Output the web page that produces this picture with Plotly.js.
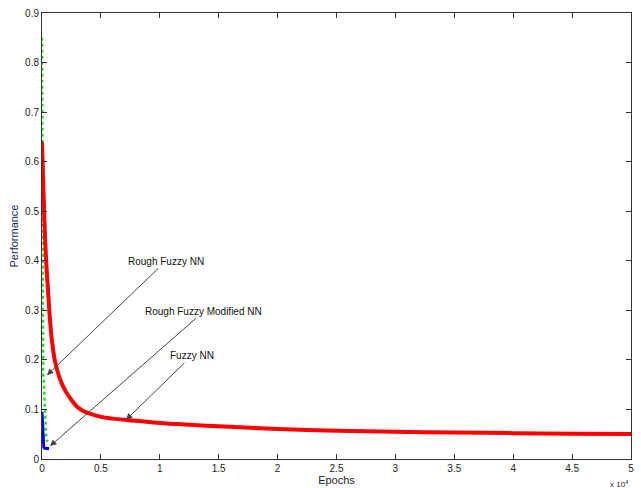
<!DOCTYPE html>
<html><head><meta charset="utf-8">
<script src="https://cdn.plot.ly/plotly-3.0.1.min.js"></script>
<style>body{margin:0;background:#fff}#c{width:641px;height:488px}</style>
</head><body><div id="c"></div>
<script>
// Fuzzy NN (red)
const fuzzyX = [0, 100, 200, 300, 400, 500, 650, 850, 1080, 1500, 2000, 2500, 3000, 3500, 4000, 5000, 6000, 7000, 8000, 10000, 12500, 15000, 20000, 25000, 30000, 35000, 40000, 45000, 50000];
const fuzzyY = [0.64, 0.56, 0.485, 0.425, 0.38, 0.345, 0.29, 0.238, 0.2, 0.163, 0.137, 0.119, 0.105, 0.097, 0.092, 0.085, 0.0815, 0.079, 0.077, 0.0725, 0.069, 0.066, 0.0605, 0.0572, 0.055, 0.0535, 0.0522, 0.0512, 0.0505];
// Rough Fuzzy NN (green)
const roughX = [0, 10, 20, 30, 40, 60, 100, 150, 200, 250, 300, 350, 400, 450, 500];
const roughY = [0.85, 0.69, 0.6, 0.35, 0.28, 0.2, 0.17, 0.16, 0.12, 0.08, 0.05, 0.042, 0.038, 0.036, 0.035];
// Rough Fuzzy Modified NN (blue)
const modX = [0, 50, 80, 100, 120, 150, 200, 300, 400, 500, 600];
const modY = [0.095, 0.07, 0.05, 0.035, 0.027, 0.024, 0.022, 0.021, 0.021, 0.021, 0.021];
const xTicks = [0, 5000, 10000, 15000, 20000, 25000, 30000, 35000, 40000, 45000, 50000];
const xTickText = ['0', '0.5', '1', '1.5', '2', '2.5', '3', '3.5', '4', '4.5', '5'];
const yTicks = [0, 0.1, 0.2, 0.3, 0.4, 0.5, 0.6, 0.7, 0.8, 0.9];
const labels = ['Rough Fuzzy NN', 'Rough Fuzzy Modified NN', 'Fuzzy NN'];
const labelPos = [[10500, 0.399], [13750, 0.298], [12700, 0.208]];
const arrowHead = [[420, 0.169], [680, 0.026], [7130, 0.079]];

const traces = [
  {x: roughX, y: roughY, mode: 'lines', line: {color: '#22dd22', width: 2.5, dash: 'dot'}, hoverinfo: 'skip'},
  {x: modX, y: modY, mode: 'lines', line: {color: '#0000ee', width: 3}, hoverinfo: 'skip'},
  {x: fuzzyX, y: fuzzyY, mode: 'lines', line: {color: '#ff0000', width: 4, shape: 'spline', smoothing: 0.8}, hoverinfo: 'skip'}
];
const ann = labels.map((t, i) => ({
  text: t, x: arrowHead[i][0], y: arrowHead[i][1], ax: labelPos[i][0], ay: labelPos[i][1],
  axref: 'x', ayref: 'y', xref: 'x', yref: 'y', showarrow: true, arrowhead: 2, arrowsize: 1.3,
  arrowwidth: 1, arrowcolor: '#444', font: {size: 10, color: '#111', family: 'Liberation Sans, Arial'}
}));
ann.push({text: 'x 10<sup>4</sup>', xref: 'paper', yref: 'paper', x: 1.0, y: 0, xanchor: 'right', yanchor: 'top', xshift: -1, yshift: -18, showarrow: false, font: {size: 8, color: '#222', family: 'Liberation Sans, Arial'}});
const axBase = {showline: true, linecolor: '#333', linewidth: 1, mirror: 'ticks', ticks: 'inside', ticklen: 5, tickcolor: '#333', showgrid: false, zeroline: false, tickfont: {size: 10, color: '#222', family: 'Liberation Sans, Arial'}};
const layout = {
  width: 641, height: 488, margin: {l: 42, r: 10, t: 13, b: 29},
  paper_bgcolor: '#fff', plot_bgcolor: '#fff', showlegend: false,
  xaxis: Object.assign({}, axBase, {range: [0, 50000], tickvals: xTicks, ticktext: xTickText, title: {text: 'Epochs', standoff: 1, font: {size: 11, color: '#222', family: 'Liberation Sans, Arial'}}}),
  yaxis: Object.assign({}, axBase, {range: [0, 0.9], tickvals: yTicks, ticktext: yTicks.map(v => String(v)), title: {text: 'Performance', standoff: 4, font: {size: 11, color: '#1a2a5a', family: 'Liberation Sans, Arial'}}}),
  annotations: ann
};
Plotly.newPlot('c', traces, layout, {displayModeBar: false, staticPlot: true});
</script></body></html>
